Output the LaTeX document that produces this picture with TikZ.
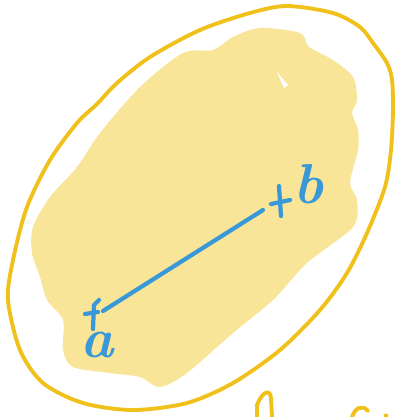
\documentclass[tikz,border=0pt]{standalone}
\usepackage{tikz}
\usetikzlibrary{positioning}
\definecolor{sketchyellow}{RGB}{240,192,27}
\definecolor{paleyellow}{RGB}{249,229,152}
\definecolor{penblue}{RGB}{56,152,216}
\begin{document}
\begin{tikzpicture}[x=0.01cm, y=-0.01cm,
  outline/.style={draw=sketchyellow, line width=1.1pt, line join=round, line cap=round},
  pen/.style={draw=penblue, line width=1.2pt, line cap=round, line join=round},
  tag/.style={text=penblue, font=\fontsize{16}{16}\selectfont\bfseries\itshape,
              inner sep=0pt, anchor=base}
]
\useasboundingbox (0,0) rectangle (395,417);

% painted region
\fill[paleyellow] plot[smooth cycle] coordinates {
  (260,28) (300,33) (309,47) (333,60) (353,77) (357,100) (352,113)
  (358,130) (358,150) (350,183) (357,200) (353,227) (307,263) (273,300)
  (233,333) (187,373) (160,387) (140,377) (110,373) (73,367) (63,350)
  (63,320) (47,300) (40,277) (32,253) (33,227) (50,197) (77,167)
  (100,133) (140,87) (183,53) (213,50) (233,37)};
\fill[white] (277,72) -- (288,85) -- (284,88) -- cycle;

% hand-drawn ring
\draw[outline] plot[smooth cycle] coordinates {
  (287,6) (333,13) (360,27) (373,43) (387,63) (392,80) (393,110)
  (391,150) (385,187) (367,233) (347,273) (320,310) (280,350) (233,383)
  (187,403) (133,410) (83,403) (43,383) (20,350) (8,300) (13,260)
  (27,207) (50,160) (77,123) (97,104) (117,83) (150,57) (200,30) (250,13)};

% segment from a to b
\coordinate (pa) at (103,311);
\coordinate (pb) at (263,210);
\draw[pen] (pa) -- (pb);

% crosses
\draw[pen] (93,329) -- (94,305) -- (99,300);
\draw[pen] (85,314) -- (98,312);
\draw[pen] (279,186) -- (281,216);
\draw[pen] (271,204) -- (290,200);

% labels
\node[tag] (la) at (97,357) {a};
\node[tag] (lb) at (308,203) {b};

% cut-off strokes at the bottom
\draw[outline] (257,417) -- (257,405) .. controls (262,392) and (270,388) .. (271,398) -- (272,417);
\draw[outline] (352,417) .. controls (355,408) and (362,404) .. (368,411);
\fill[sketchyellow] (386,416) circle (2.5);
\end{tikzpicture}
\end{document}
